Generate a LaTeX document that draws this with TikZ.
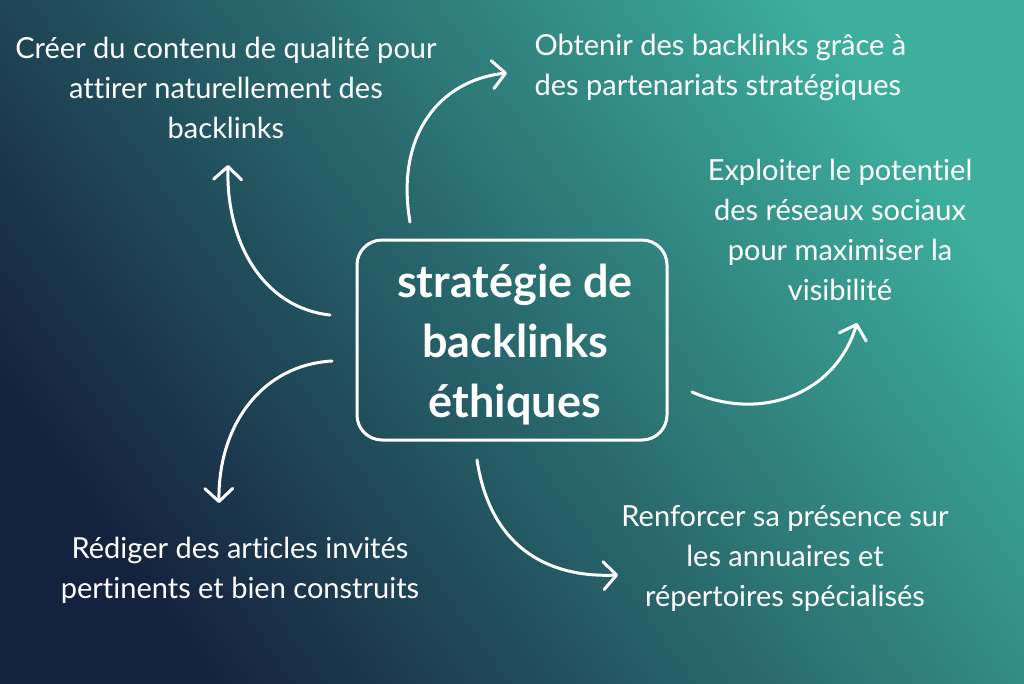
\documentclass[tikz,border=0pt]{standalone}
\usepackage{fontspec}
\setmainfont{Lato}[Ligatures=NoCommon]
\usetikzlibrary{arrows.meta}

\definecolor{navy}{HTML}{15223F}
\definecolor{lightteal}{HTML}{3DAF9C}

\tikzset{
  idea/.style={text=white, font=\fontsize{29}{40}\selectfont, align=center},
  curl/.style={draw=white, line width=3pt, line cap=round, line join=round,
    -{Straight Barb[length=13pt,width=28pt,line cap=round,line join=round]}},
}

\begin{document}
\begin{tikzpicture}[x=1pt, y=-1pt]
    % Background
    \useasboundingbox (0,0) rectangle (1024,683);
    \shade[top color=lightteal, bottom color=navy, shading angle=-55]
      (0,0) rectangle (1024,683);

    % Core box
    \node[draw=white, line width=3pt, rounded corners=25pt, minimum width=310pt,
      minimum height=200pt] (core) at (512,340) {};
    \node[text=white, align=center, font=\bfseries\fontsize{45}{60}\selectfont]
      (title) at (515,345) {stratégie de\\backlinks\\éthiques};

    % Ideas
    \node[idea] (contenu) at (226,88) {Créer du contenu de qualité pour\\attirer naturellement des\\backlinks};
    \node[idea, align=left, anchor=west] (partenariats) at (531,67) {Obtenir des backlinks grâce à\\des partenariats stratégiques};
    \node[idea] (reseaux) at (840,230) {Exploiter le potentiel\\des réseaux sociaux\\pour maximiser la\\visibilité};
    \node[idea] (articles) at (240,570) {Rédiger des articles invités\\pertinents et bien construits};
    \node[idea] (annuaires) at (785,558) {Renforcer sa présence sur\\les annuaires et\\répertoires spécialisés};

    % Arrow ends
    \coordinate (a1) at (330,315);
    \coordinate (b1) at (228,165);
    \coordinate (a2) at (410,222);
    \coordinate (b2) at (507,73);
    \coordinate (a3) at (692,392);
    \coordinate (b3) at (857,323);
    \coordinate (a4) at (332,361);
    \coordinate (b4) at (219,503);
    \coordinate (a5) at (477,460);
    \coordinate (b5) at (618,575);

    % Curved arrows
    \draw[curl] (a1) .. controls (265,308) and (226,245) .. (b1);
    \draw[curl] (a2) .. controls (395,135) and (440,80) .. (b2);
    \draw[curl] (a3) .. controls (760,422) and (835,395) .. (b3);
    \draw[curl] (a4) .. controls (262,365) and (218,425) .. (b4);
    \draw[curl] (a5) .. controls (490,545) and (545,578) .. (b5);
\end{tikzpicture}
\end{document}
